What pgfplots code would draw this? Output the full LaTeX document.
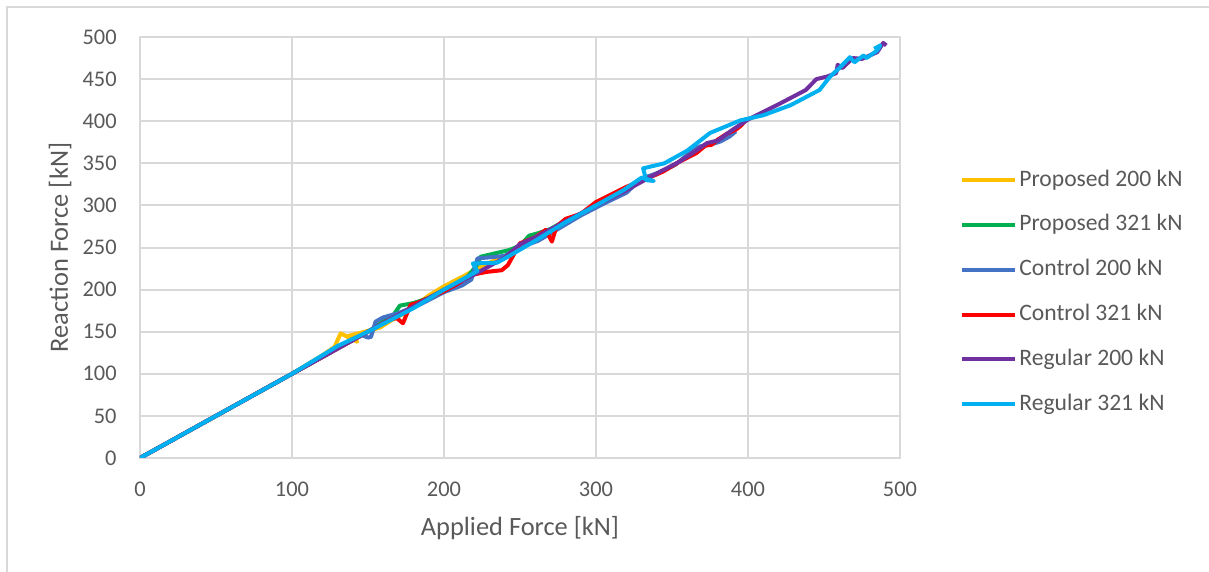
\documentclass[border=0pt]{standalone}
\usepackage{pgfplots}
\pgfplotsset{compat=1.18}
\usepackage{fontspec}
\setmainfont{Carlito}
\definecolor{cYel}{HTML}{FFC000}
\definecolor{cGrn}{HTML}{00B050}
\definecolor{cBlu}{HTML}{4472C4}
\definecolor{cRed}{HTML}{FF0000}
\definecolor{cPur}{HTML}{7030A0}
\definecolor{cCya}{HTML}{00B0F0}
\definecolor{gridgray}{HTML}{D9D9D9}
\definecolor{txtgray}{HTML}{595959}
\begin{document}
\begin{tikzpicture}
\path[use as bounding box] (-70pt,-57pt) rectangle (534.5pt,229pt);
\draw[gridgray, line width=1pt] (-66.5pt,-80pt) -- (-66.5pt,225.5pt) -- (600pt,225.5pt);
\begin{axis}[
  at={(0,0)}, anchor=south west,
  scale only axis, width=380pt, height=210.5pt,
  xmin=0, xmax=500, ymin=0, ymax=500,
  xtick={0,100,...,500}, ytick={0,50,...,500},
  grid=major, major grid style={color=gridgray, line width=1pt},
  axis line style={gridgray, line width=1pt},
  tick style={draw=none},
  /pgf/number format/assume math mode=true,
  ticklabel style={font=\fontsize{11.2}{12}\selectfont, text=txtgray},
  yticklabel style={inner sep=0pt, xshift=-11.5pt},
  xticklabel style={inner sep=0pt, yshift=-12pt},
  xlabel={Applied Force [kN]}, ylabel={Reaction Force [kN]},
  label style={font=\fontsize{13.2}{15}\selectfont, text=txtgray},
  xlabel style={at={(axis description cs:0.5,-0.166)}, anchor=center},
  ylabel style={at={(axis description cs:-0.105,0.5)}, anchor=center},
  legend style={at={(axis description cs:1.0789,0.394)}, anchor=west, draw=none, fill=none,
    inner sep=0pt, row sep=11.4pt,
    font=\fontsize{11.8}{13}\selectfont, text=txtgray,
    nodes={inner sep=0pt, text height=8.5pt, text depth=2.5pt},
    /tikz/every odd column/.append style={column sep=1pt}},
  legend cell align=left,
  legend image code/.code={\draw[#1] (0pt,0pt) -- (26.5pt,0pt);},
  every axis plot/.append style={line width=2pt, line join=round, mark=none},
]
\addplot[cYel] coordinates {(0,0)(50,50)(100,100)(120,122)(128,132)(132,148)(143,138)(137,145)(150,151)(158,155)(165,163)(175,173)(190,193)(200,204)(215,218)(225,228)(240,240)(250,250)};
\addlegendentry{Proposed 200 kN}
\addplot[cGrn] coordinates {(0,0)(100,100)(150,150)(160,162)(166,168)(171,181)(180,184)(190,190)(200,199)(215,214)(222,230)(224,239)(243,247)(250,252)(256,264)(262,267)(270,272)(278,280)};
\addlegendentry{Proposed 321 kN}
\addplot[cBlu] coordinates {(0,0)(100,100)(140,140)(146,146)(150,143)(152,144)(155,162)(160,167)(170,172)(185,183)(200,197)(212,205)(218,212)(222,237)(240,240)(250,250)(262,258)(275,272)(290,288)(305,302)(320,315)(330,332)(340,338)(345,342)(352,348)(360,360)(368,370)(375,372)(382,376)(388,382)(392,388)};
\addlegendentry{Control 200 kN}
\addplot[cRed] coordinates {(0,0)(100,100)(150,150)(165,165)(169,166)(173,160)(178,182)(182,184)(190,190)(200,198)(210,208)(217,217)(228,221)(238,223)(242,229)(250,255)(260,262)(267,271)(271,257)(274,275)(280,284)(290,290)(300,304)(320,322)(335,333)(344,340)(355,352)(366,362)(372,371)(376,372)(380,378)(386,385)(392,390)(395,394)(398,400)};
\addlegendentry{Control 321 kN}
\addplot[cPur] coordinates {(0,0)(100,100)(150,150)(200,200)(220,218)(230,228)(240,238)(250,254)(260,262)(280,281)(300,300)(320,318)(340,338)(355,352)(365,364)(373,374)(380,377)(390,390)(400,402)(420,420)(438,437)(445,450)(452,453)(458,457)(459,467)(462,463)(469,475)(475,474)(480,478)(485,482)(489,493)(491,490)};
\addlegendentry{Regular 200 kN}
\addplot[cCya] coordinates {(0,0)(100,100)(130,133)(150,150)(180,178)(200,200)(212,212)(222,222)(219,231)(235,232)(243,240)(260,258)(280,280)(300,300)(318,318)(330,333)(338,329)(333,330)(331,344)(345,350)(360,365)(375,386)(395,401)(410,407)(428,419)(447,437)(454,453)(460,463)(467,476)(470,470)(476,478)(478,475)(485,484)(487,490)(483,486)};
\addlegendentry{Regular 321 kN}
\end{axis}
\end{tikzpicture}
\end{document}
